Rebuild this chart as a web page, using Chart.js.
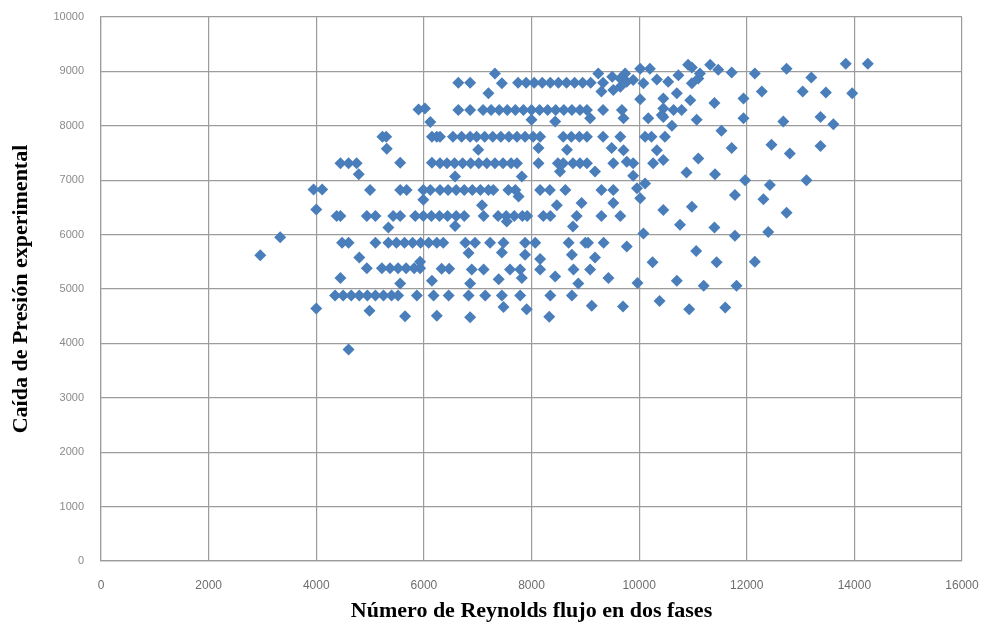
<!DOCTYPE html>
<html>
<head>
<meta charset="utf-8">
<script src="https://cdn.jsdelivr.net/npm/chart.js@4.4.1/dist/chart.umd.min.js"></script>
<style>
  html, body { margin: 0; padding: 0; background: #ffffff; }
  #wrap { width: 988px; height: 627px; }
</style>
</head>
<body>
<div id="wrap"><canvas id="grafico" width="988" height="627"></canvas></div>
<script>
// Ejes
const ejeXTicks = [0, 2000, 4000, 6000, 8000, 10000, 12000, 14000, 16000];
const ejeYTicks = [0, 1000, 2000, 3000, 4000, 5000, 6000, 7000, 8000, 9000, 10000];
const tituloX = "Número de Reynolds flujo en dos fases";
const tituloY = "Caída de Presión experimental";

const franja9000 = [
  [7320, 8960], [9240, 8960], [9500, 8900], [9650, 8870], [9740, 8960], [10020, 9050],
  [10200, 9050], [10730, 8930], [10910, 9120], [10980, 9070], [11130, 8960], [11320, 9120],
  [11470, 9030], [11720, 8980], [12150, 8960], [12740, 9050], [13200, 8890], [13840, 9140],
  [14250, 9140]
];
const franja8800 = [
  [6640, 8790], [6860, 8790], [7450, 8780], [7750, 8790], [7900, 8790], [8050, 8790],
  [8200, 8790], [8350, 8790], [8500, 8790], [8650, 8790], [8800, 8790], [8950, 8790],
  [9100, 8790], [9330, 8790], [9650, 8720], [9770, 8810], [9890, 8840], [10080, 8780],
  [10330, 8850], [10540, 8810], [10980, 8780], [11100, 8870],
  [7200, 8600], [9300, 8630], [9520, 8660], [10700, 8600], [10450, 8500], [10020, 8490],
  [10950, 8470], [11400, 8420], [11940, 8500], [12280, 8630], [13040, 8630], [13470, 8610],
  [13960, 8600]
];
const franja8300 = [
  [5900, 8300], [6020, 8320], [6640, 8290], [6860, 8290], [7100, 8290], [7250, 8290],
  [7400, 8290], [7550, 8290], [7700, 8290], [7850, 8290], [8000, 8290], [8150, 8290],
  [8300, 8290], [8450, 8290], [8600, 8290], [8750, 8290], [8900, 8290], [9030, 8290],
  [9330, 8290], [9680, 8290], [10450, 8320], [10640, 8290], [10790, 8290], [10420, 8200],
  [6120, 8070], [8000, 8110], [8440, 8080], [9090, 8140], [9710, 8140], [10170, 8140],
  [10450, 8160], [11070, 8110], [11940, 8140], [12680, 8080], [13370, 8160], [13610, 8030],
  [10610, 8000], [11530, 7910]
];
const franja7800 = [
  [5230, 7800], [5300, 7800], [6150, 7800], [6240, 7800], [6300, 7800], [6540, 7800],
  [6700, 7800], [6860, 7800], [6980, 7800], [7130, 7800], [7280, 7800], [7430, 7800],
  [7580, 7800], [7730, 7800], [7880, 7800], [8030, 7800], [8160, 7800], [8590, 7800],
  [8740, 7800], [8890, 7800], [9030, 7800], [9330, 7800], [9650, 7800], [10110, 7800],
  [10230, 7800], [10480, 7800],
  [5310, 7580], [7010, 7560], [8130, 7590], [8660, 7560], [9490, 7590], [9710, 7550],
  [10330, 7550], [11720, 7590], [12460, 7650], [12800, 7490], [13370, 7630]
];
const franja7300 = [
  [4450, 7310], [4600, 7310], [4750, 7310], [5560, 7320], [6150, 7320], [6300, 7310],
  [6430, 7310], [6570, 7310], [6720, 7310], [6870, 7310], [7020, 7310], [7170, 7310],
  [7320, 7310], [7470, 7310], [7620, 7310], [7730, 7310], [8130, 7310], [8490, 7310],
  [8590, 7310], [8770, 7310], [8900, 7310], [9030, 7310], [9520, 7310], [9770, 7340],
  [9890, 7310], [10260, 7310], [10450, 7370], [11100, 7400],
  [4790, 7110], [6580, 7070], [7820, 7070], [8530, 7160], [9180, 7160], [9890, 7080],
  [10880, 7140], [11410, 7110], [11970, 7000], [13110, 7000], [10110, 6940], [12430, 6910]
];
const franja6800 = [
  [3950, 6830], [4110, 6830], [5000, 6820], [5560, 6820], [5680, 6820], [5990, 6820],
  [6120, 6820], [6300, 6820], [6450, 6820], [6600, 6820], [6750, 6820], [6900, 6820],
  [7050, 6820], [7200, 6820], [7290, 6820], [7570, 6820], [7700, 6820], [8160, 6820],
  [8340, 6820], [8630, 6820], [9300, 6820], [9520, 6820], [9960, 6850],
  [5990, 6640], [7760, 6700], [7080, 6540], [8470, 6540], [8930, 6580], [9520, 6580],
  [10020, 6670], [11780, 6730], [12310, 6650], [4000, 6460], [10450, 6450], [10980, 6510],
  [12740, 6400]
];
const franja6300 = [
  [4380, 6340], [4450, 6340], [4940, 6340], [5100, 6340], [5430, 6340], [5560, 6340],
  [5840, 6340], [5990, 6340], [6140, 6340], [6290, 6340], [6440, 6340], [6600, 6340],
  [6750, 6340], [7110, 6340], [7380, 6340], [7530, 6340], [7680, 6340], [7830, 6340],
  [7920, 6340], [8220, 6340], [8350, 6340], [8840, 6340], [9300, 6340], [9650, 6340],
  [5340, 6130], [6580, 6160], [7540, 6240], [8770, 6150], [10760, 6180], [11400, 6130],
  [12400, 6050], [10080, 6020], [11780, 5980]
];
const franja5800 = [
  [3330, 5950], [4480, 5850], [4600, 5850], [5100, 5850], [5340, 5850], [5490, 5850],
  [5640, 5850], [5790, 5850], [5940, 5850], [6090, 5850], [6240, 5850], [6360, 5850],
  [6770, 5850], [6950, 5850], [7230, 5850], [7480, 5850], [7880, 5850], [8070, 5850],
  [8690, 5850], [9000, 5850], [9050, 5850], [9340, 5850], [9770, 5780], [11060, 5700],
  [2960, 5620], [4800, 5580], [5930, 5500], [6830, 5660], [7450, 5670], [7880, 5630],
  [8750, 5630], [9180, 5580], [8160, 5550], [10250, 5490], [11440, 5490], [12150, 5500]
];
const franja5300 = [
  [4940, 5380], [5220, 5380], [5370, 5380], [5520, 5380], [5670, 5380], [5820, 5380],
  [5930, 5380], [6330, 5370], [6470, 5370], [6890, 5360], [7110, 5360], [7600, 5360],
  [7790, 5360], [8160, 5360], [8780, 5360], [9090, 5360],
  [4450, 5200], [5560, 5100], [6150, 5150], [7390, 5180], [7820, 5200], [6860, 5100],
  [8440, 5230], [8870, 5100], [9430, 5200], [9970, 5110], [10700, 5150], [11200, 5060],
  [11810, 5060]
];
const franja4800 = [
  [4350, 4880], [4500, 4880], [4650, 4880], [4800, 4880], [4950, 4880], [5100, 4880],
  [5250, 4880], [5400, 4880], [5520, 4880], [5870, 4880], [6180, 4880], [6460, 4880],
  [6830, 4880], [7140, 4880], [7450, 4880], [7790, 4880], [8350, 4880], [8750, 4880],
  [4000, 4640], [4990, 4600], [5650, 4500], [6240, 4510], [7480, 4670], [7910, 4630],
  [9120, 4690], [9700, 4680], [6860, 4480], [8330, 4490], [10380, 4780], [10930, 4630],
  [11600, 4660], [4600, 3890]
];

const puntos = [
  ...franja9000, ...franja8800, ...franja8300, ...franja7800, ...franja7300,
  ...franja6800, ...franja6300, ...franja5800, ...franja5300, ...franja4800
].map(p => ({ x: p[0], y: p[1] }));

const colorPunto = "#4a7ebb";
const colorGrid = "#9c9c9c";
const fuenteTitulo = { family: "'Liberation Serif', 'Times New Roman', serif", size: 22, weight: "bold" };

const ctx = document.getElementById("grafico").getContext("2d");
new Chart(ctx, {
  type: "scatter",
  data: {
    datasets: [{
      label: tituloY,
      data: puntos,
      pointStyle: "rectRot",
      pointRadius: 6,
      pointHoverRadius: 6,
      backgroundColor: colorPunto,
      borderColor: colorPunto,
      borderWidth: 0
    }]
  },
  options: {
    responsive: false,
    animation: false,
    layout: { padding: { left: 0, right: 26, top: 17, bottom: 0 } },
    plugins: { legend: { display: false }, tooltip: { enabled: false } },
    scales: {
      x: {
        type: "linear",
        min: ejeXTicks[0],
        max: ejeXTicks[ejeXTicks.length - 1],
        afterBuildTicks: (s) => { s.ticks = ejeXTicks.map(v => ({ value: v })); },
        // alto fijo del eje y sin relleno lateral extra
        afterFit: (s) => { s.height = 66; s.paddingLeft = 0; s.paddingRight = 0; },
        ticks: {
          callback: (v) => String(v),
          color: "#6e6e6e",
          padding: 17,
          font: { family: "'Liberation Sans Narrow', 'Liberation Sans', sans-serif", size: 12 }
        },
        grid: { color: colorGrid, lineWidth: 1.2, drawTicks: false },
        border: { color: colorGrid, width: 1.2 },
        title: { display: true, text: tituloX, color: "#000", font: fuenteTitulo, padding: { top: 0, bottom: 2 } }
      },
      y: {
        type: "linear",
        min: ejeYTicks[0],
        max: ejeYTicks[ejeYTicks.length - 1],
        afterBuildTicks: (s) => { s.ticks = ejeYTicks.map(v => ({ value: v })); },
        afterFit: (s) => { s.width = 101; s.paddingTop = 0; s.paddingBottom = 0; },
        ticks: {
          callback: (v) => String(v),
          color: "#8a8a8a",
          padding: 17,
          font: { family: "'Liberation Sans', sans-serif", size: 11 }
        },
        grid: { color: colorGrid, lineWidth: 1.2, drawTicks: false },
        border: { color: colorGrid, width: 1.2 },
        title: { display: true, text: tituloY, color: "#000", font: fuenteTitulo, padding: { top: 8, bottom: 0 } }
      }
    }
  }
});
</script>
</body>
</html>
